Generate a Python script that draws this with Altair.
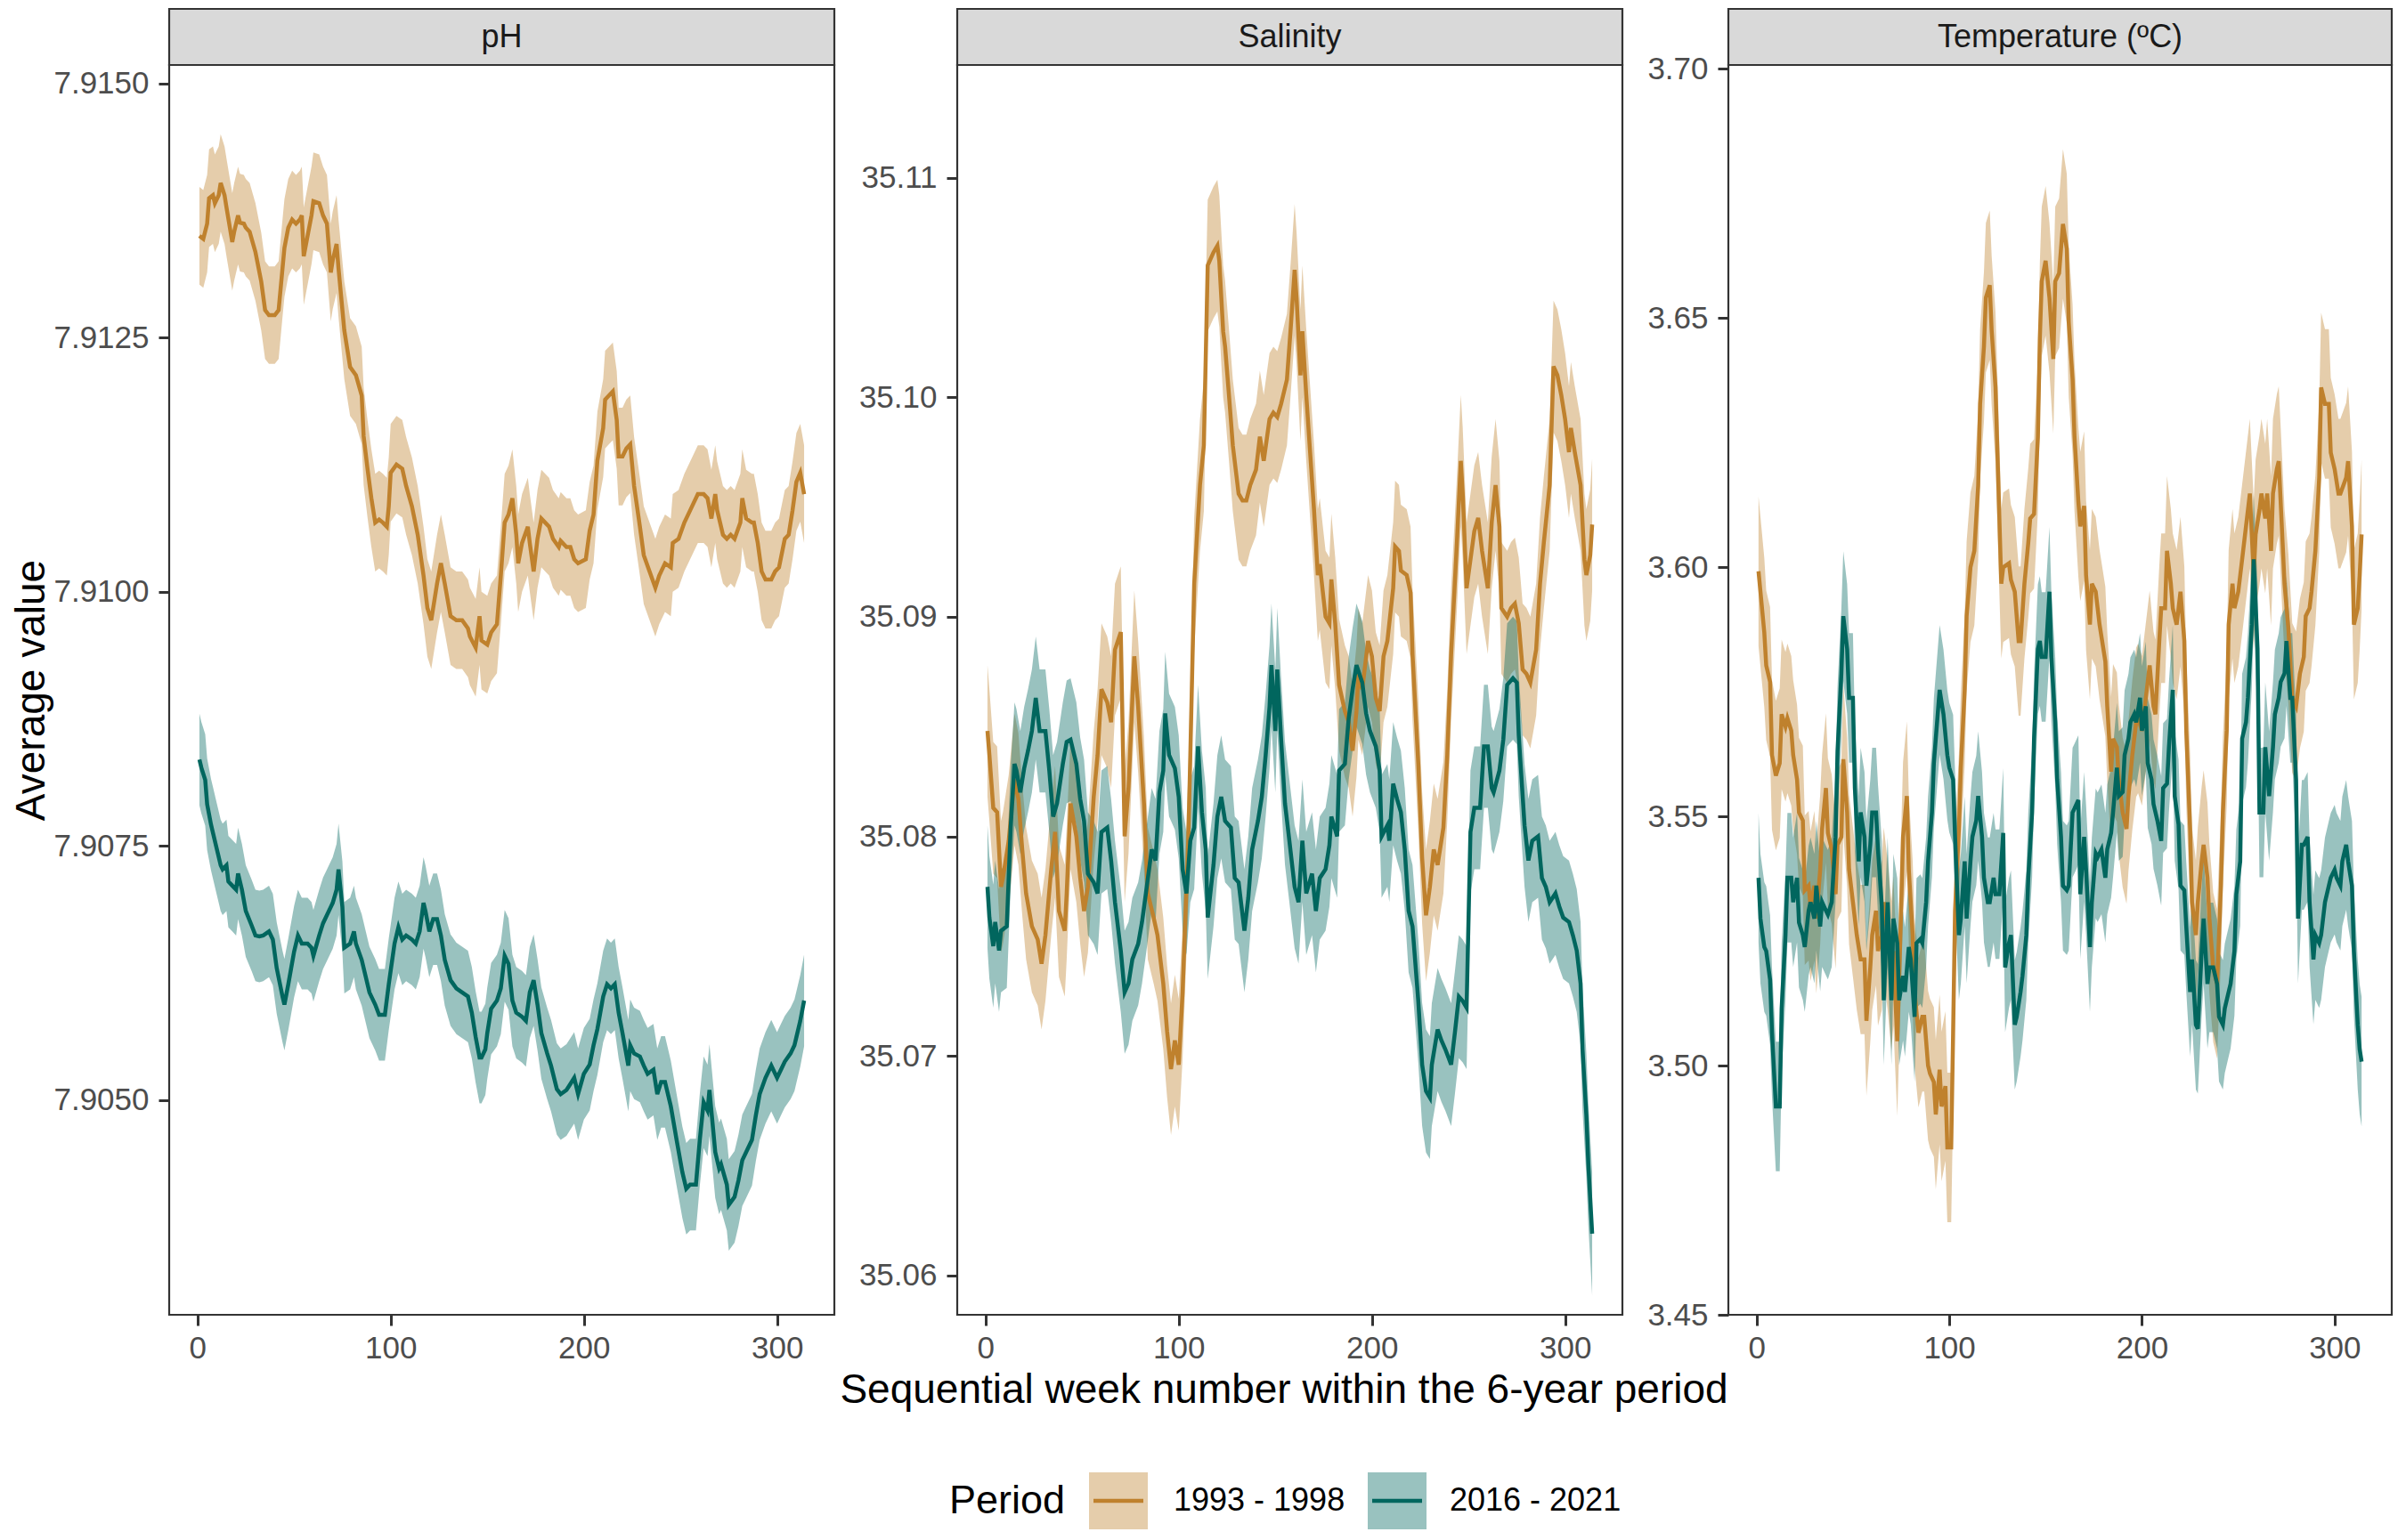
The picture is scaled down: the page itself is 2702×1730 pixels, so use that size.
import altair as alt
import pandas as pd

FONT = "Liberation Sans, Arial, Helvetica, sans-serif"

periods = ["1993 - 1998", "2016 - 2021"]
colors = ["#BF812D", "#01665E"]
panel_names = ["pH", "Salinity", "Temperature (ºC)"]
x_title = "Sequential week number within the 6-year period"
y_title = "Average value"
legend_title = "Period"
x_ticks = [0, 100, 200, 300]
ph_ticks = [7.9050, 7.9075, 7.9100, 7.9125, 7.9150]
sal_ticks = [35.06, 35.07, 35.08, 35.09, 35.10, 35.11]
temp_ticks = [3.45, 3.50, 3.55, 3.60, 3.65, 3.70]

# (week, mean) pairs
ph_9398 = [(1,7.91350),(3,7.91347),(5,7.91362),(6,7.91387),(8,7.91390),(9,7.91382),(11,7.91390),(12,7.91402),(14,7.91390),(15,7.91378),(18,7.91344),(19,7.91354),(21,7.91370),(22,7.91363),(24,7.91362),(25,7.91358),(27,7.91354),(30,7.91334),(33,7.91305),(35,7.91277),(37,7.91272),(40,7.91272),(42,7.91277),(44,7.91318),(45,7.91338),(47,7.91358),(49,7.91366),(51,7.91362),(53,7.91366),(54,7.91370),(55,7.91330),(57,7.91350),(59,7.91370),(60,7.91384),(63,7.91382),(65,7.91370),(67,7.91362),(69,7.91314),(70,7.91326),(72,7.91342),(73,7.91318),(76,7.91257),(79,7.91221),(82,7.91213),(85,7.91193),(86,7.91153),(88,7.91121),(90,7.91092),(92,7.91068),(94,7.91071),(96,7.91068),(98,7.91064),(99,7.91084),(100,7.91117),(103,7.91125),(106,7.91121),(108,7.91104),(111,7.91084),(114,7.91056),(117,7.91016),(119,7.90984),(121,7.90972),(124,7.91008),(126,7.91028),(128,7.91008),(131,7.90976),(134,7.90972),(137,7.90972),(140,7.90964),(141,7.90956),(144,7.90945),(146,7.90976),(147,7.90952),(150,7.90948),(152,7.90960),(155,7.90968),(157,7.91016),(159,7.91068),(161,7.91076),(163,7.91092),(165,7.91056),(166,7.91028),(168,7.91048),(171,7.91064),(172,7.91048),(174,7.91020),(176,7.91052),(178,7.91072),(180,7.91068),(182,7.91064),(184,7.91052),(187,7.91044),(188,7.91050),(191,7.91044),(193,7.91044),(195,7.91032),(197,7.91028),(201,7.91032),(203,7.91060),(205,7.91076),(207,7.91129),(210,7.91161),(211,7.91189),(213,7.91193),(215,7.91197),(217,7.91169),(218,7.91133),(220,7.91133),(222,7.91141),(224,7.91145),(226,7.91104),(229,7.91064),(231,7.91036),(234,7.91020),(237,7.91004),(239,7.91016),(242,7.91028),(245,7.91024),(246,7.91048),(249,7.91052),(252,7.91068),(255,7.91080),(259,7.91096),(262,7.91096),(264,7.91092),(266,7.91072),(268,7.91096),(269,7.91080),(272,7.91056),(274,7.91052),(276,7.91056),(278,7.91052),(281,7.91068),(282,7.91092),(284,7.91072),(287,7.91068),(288,7.91068),(290,7.91048),(292,7.91020),(294,7.91012),(297,7.91012),(299,7.91020),(301,7.91024),(304,7.91052),(306,7.91056),(308,7.91080),(310,7.91108),(312,7.91117),(314,7.91096)]
ph_1621 = [(1,7.90835),(2,7.90827),(4,7.90815),(5,7.90791),(7,7.90771),(8,7.90763),(10,7.90747),(12,7.90731),(13,7.90727),(15,7.90731),(16,7.90715),(18,7.90711),(20,7.90707),(21,7.90723),(23,7.90707),(25,7.90686),(28,7.90672),(30,7.90662),(32,7.90661),(34,7.90662),(37,7.90666),(39,7.90658),(41,7.90630),(44,7.90602),(45,7.90594),(47,7.90614),(50,7.90646),(52,7.90662),(54,7.90654),(57,7.90654),(59,7.90650),(60,7.90642),(63,7.90662),(65,7.90674),(67,7.90682),(70,7.90694),(72,7.90707),(73,7.90727),(75,7.90690),(76,7.90650),(79,7.90654),(81,7.90666),(82,7.90654),(85,7.90638),(87,7.90622),(89,7.90606),(92,7.90594),(94,7.90584),(97,7.90584),(99,7.90614),(102,7.90654),(104,7.90670),(106,7.90658),(108,7.90662),(111,7.90658),(113,7.90654),(115,7.90666),(117,7.90694),(118,7.90686),(120,7.90666),(122,7.90678),(124,7.90678),(126,7.90662),(128,7.90638),(131,7.90618),(134,7.90610),(137,7.90606),(140,7.90602),(142,7.90586),(144,7.90562),(146,7.90542),(147,7.90542),(149,7.90550),(150,7.90566),(152,7.90590),(155,7.90598),(157,7.90610),(159,7.90642),(161,7.90634),(163,7.90598),(165,7.90586),(168,7.90582),(170,7.90578),(172,7.90606),(174,7.90618),(176,7.90594),(178,7.90566),(181,7.90546),(183,7.90534),(186,7.90511),(188,7.90506),(191,7.90510),(193,7.90516),(195,7.90522),(197,7.90506),(200,7.90526),(203,7.90535),(205,7.90554),(207,7.90570),(210,7.90602),(212,7.90614),(214,7.90610),(216,7.90614),(218,7.90586),(220,7.90566),(223,7.90534),(224,7.90554),(226,7.90546),(229,7.90543),(231,7.90534),(233,7.90526),(236,7.90530),(238,7.90506),(240,7.90518),(242,7.90518),(245,7.90494),(248,7.90461),(251,7.90429),(253,7.90413),(255,7.90417),(258,7.90417),(260,7.90461),(262,7.90498),(264,7.90490),(265,7.90510),(268,7.90449),(270,7.90433),(271,7.90437),(274,7.90417),(275,7.90397),(278,7.90405),(280,7.90421),(282,7.90441),(284,7.90449),(287,7.90461),(289,7.90485),(291,7.90506),(294,7.90522),(296,7.90530),(297,7.90534),(300,7.90522),(302,7.90530),(304,7.90538),(307,7.90546),(309,7.90554),(310,7.90562),(312,7.90578),(314,7.90598)]
sal_9398 = [(1,35.0848),(2,35.0837),(4,35.0813),(6,35.0811),(8,35.0777),(9,35.0781),(12,35.0798),(15,35.0826),(17,35.0817),(19,35.0794),(21,35.0774),(24,35.0759),(27,35.0753),(29,35.0742),(31,35.0755),(34,35.0785),(36,35.0802),(38,35.0766),(41,35.0757),(42,35.0774),(44,35.0815),(47,35.0800),(49,35.0781),(51,35.0766),(53,35.0777),(56,35.0818),(58,35.0837),(60,35.0867),(63,35.0861),(65,35.0852),(67,35.0885),(70,35.0893),(72,35.0800),(74,35.0822),(77,35.0882),(79,35.0859),(82,35.0815),(84,35.0774),(87,35.0763),(89,35.0755),(92,35.0733),(94,35.0711),(96,35.0694),(98,35.0707),(100,35.0696),(102,35.0729),(105,35.0800),(106,35.0837),(108,35.0915),(111,35.0960),(113,35.0978),(115,35.1060),(118,35.1066),(120,35.1069),(121,35.1062),(123,35.1030),(124,35.1023),(126,35.1001),(128,35.0978),(131,35.0956),(133,35.0953),(135,35.0953),(137,35.0960),(140,35.0967),(142,35.0982),(144,35.0971),(147,35.0990),(149,35.0993),(151,35.0991),(153,35.0997),(156,35.1008),(158,35.1032),(160,35.1058),(161,35.1045),(163,35.1010),(164,35.1030),(166,35.1001),(168,35.0975),(170,35.0949),(172,35.0919),(173,35.0924),(175,35.0908),(176,35.0900),(178,35.0897),(179,35.0917),(181,35.0897),(183,35.0869),(186,35.0857),(188,35.0852),(190,35.0839),(192,35.0857),(193,35.0874),(195,35.0867),(198,35.0889),(200,35.0882),(202,35.0863),(204,35.0857),(206,35.0882),(208,35.0889),(211,35.0913),(212,35.0932),(214,35.0930),(215,35.0921),(218,35.0919),(220,35.0911),(221,35.0883),(224,35.0833),(226,35.0790),(228,35.0764),(230,35.0777),(232,35.0794),(234,35.0787),(237,35.0804),(239,35.0837),(241,35.0883),(244,35.0934),(246,35.0971),(247,35.0956),(249,35.0913),(251,35.0926),(253,35.0939),(255,35.0945),(257,35.0930),(260,35.0913),(262,35.0943),(264,35.0960),(266,35.0941),(267,35.0904),(270,35.0900),(272,35.0904),(274,35.0906),(276,35.0897),(278,35.0876),(280,35.0874),(282,35.0870),(285,35.0885),(287,35.0915),(289,35.0934),(292,35.0960),(294,35.1014),(296,35.1010),(298,35.1001),(300,35.0990),(302,35.0975),(303,35.0986),(305,35.0975),(308,35.0960),(310,35.0926),(311,35.0919),(313,35.0928),(314,35.0942)]
sal_1621 = [(1,35.0777),(2,35.0763),(4,35.0750),(5,35.0761),(7,35.0748),(8,35.0757),(11,35.0759),(13,35.0804),(15,35.0833),(16,35.0830),(18,35.0820),(20,35.0831),(22,35.0839),(24,35.0848),(26,35.0863),(28,35.0848),(31,35.0848),(33,35.0830),(35,35.0809),(37,35.0815),(40,35.0833),(42,35.0843),(44,35.0844),(47,35.0833),(49,35.0817),(51,35.0807),(53,35.0783),(56,35.0779),(58,35.0774),(60,35.0802),(63,35.0804),(65,35.0789),(67,35.0770),(70,35.0748),(72,35.0729),(74,35.0733),(76,35.0744),(79,35.0751),(81,35.0761),(83,35.0774),(86,35.0794),(88,35.0789),(90,35.0820),(92,35.0830),(93,35.0856),(95,35.0837),(98,35.0831),(100,35.0818),(102,35.0785),(104,35.0774),(106,35.0798),(108,35.0804),(110,35.0841),(112,35.0811),(114,35.0794),(115,35.0763),(118,35.0787),(120,35.0809),(122,35.0818),(124,35.0807),(127,35.0804),(129,35.0781),(131,35.0779),(134,35.0757),(136,35.0772),(138,35.0794),(141,35.0807),(143,35.0818),(145,35.0837),(147,35.0859),(148,35.0878),(150,35.0848),(151,35.0876),(153,35.0844),(155,35.0815),(157,35.0800),(160,35.0777),(162,35.0770),(164,35.0798),(166,35.0774),(169,35.0783),(171,35.0766),(173,35.0781),(176,35.0785),(178,35.0796),(179,35.0809),(182,35.0800),(183,35.0830),(186,35.0833),(188,35.0854),(190,35.0867),(192,35.0878),(195,35.0870),(197,35.0856),(199,35.0848),(202,35.0841),(204,35.0830),(205,35.0800),(208,35.0805),(209,35.0798),(211,35.0824),(213,35.0817),(215,35.0811),(217,35.0794),(219,35.0766),(221,35.0759),(224,35.0725),(226,35.0696),(228,35.0684),(230,35.0681),(231,35.0696),(234,35.0712),(236,35.0707),(238,35.0703),(241,35.0696),(243,35.0711),(245,35.0727),(247,35.0725),(249,35.0722),(251,35.0802),(253,35.0813),(256,35.0813),(258,35.0841),(260,35.0841),(262,35.0822),(263,35.0820),(266,35.0830),(268,35.0844),(270,35.0869),(273,35.0872),(275,35.0870),(276,35.0846),(279,35.0805),(281,35.0789),(283,35.0798),(286,35.0800),(288,35.0781),(290,35.0777),(292,35.0770),(295,35.0774),(297,35.0768),(299,35.0763),(302,35.0761),(304,35.0755),(306,35.0748),(308,35.0733),(309,35.0703),(311,35.0673),(312,35.0651),(314,35.0619)]
temp_9398 = [(1,3.5992),(2,3.5951),(4,3.5869),(5,3.5803),(7,3.5770),(8,3.5623),(10,3.5582),(12,3.5607),(13,3.5705),(15,3.5680),(16,3.5697),(18,3.5672),(19,3.5623),(21,3.5574),(22,3.5508),(24,3.5492),(25,3.5352),(27,3.5361),(28,3.5320),(30,3.5361),(31,3.5295),(33,3.5393),(34,3.5475),(36,3.5557),(37,3.5467),(39,3.5434),(41,3.5344),(42,3.5443),(44,3.5459),(45,3.5615),(47,3.5508),(48,3.5393),(50,3.5328),(52,3.5262),(54,3.5213),(56,3.5213),(57,3.5090),(59,3.5197),(60,3.5262),(62,3.5311),(63,3.5230),(65,3.5262),(66,3.5328),(68,3.5262),(70,3.5180),(71,3.5230),(73,3.5049),(75,3.5311),(76,3.5459),(78,3.5541),(79,3.5393),(81,3.5262),(82,3.5148),(84,3.5066),(86,3.5098),(87,3.5098),(89,3.5000),(90,3.4984),(92,3.4967),(93,3.4902),(95,3.4992),(96,3.4918),(98,3.4959),(99,3.4836),(101,3.4836),(102,3.5066),(103,3.5311),(105,3.5475),(106,3.5598),(108,3.5754),(109,3.5902),(111,3.6000),(113,3.6033),(115,3.6164),(116,3.6328),(118,3.6443),(119,3.6541),(121,3.6566),(122,3.6475),(124,3.6361),(125,3.6230),(127,3.5967),(128,3.6000),(131,3.6008),(132,3.5975),(134,3.5951),(136,3.5852),(137,3.5852),(139,3.5967),(141,3.6049),(142,3.6098),(144,3.6107),(146,3.6262),(147,3.6459),(148,3.6574),(150,3.6615),(152,3.6541),(154,3.6418),(155,3.6574),(157,3.6590),(159,3.6689),(161,3.6639),(162,3.6492),(164,3.6377),(165,3.6262),(167,3.6131),(168,3.6082),(170,3.6123),(171,3.5984),(173,3.5885),(174,3.5967),(176,3.5951),(178,3.5885),(181,3.5811),(182,3.5721),(184,3.5590),(185,3.5656),(187,3.5639),(188,3.5574),(190,3.5508),(192,3.5475),(193,3.5541),(195,3.5623),(197,3.5689),(198,3.5697),(200,3.5672),(201,3.5705),(203,3.5770),(204,3.5803),(206,3.5721),(207,3.5705),(209,3.5852),(210,3.5918),(212,3.5918),(213,3.6033),(215,3.5967),(216,3.5918),(218,3.5885),(220,3.5951),(222,3.5852),(223,3.5672),(225,3.5475),(226,3.5328),(228,3.5262),(229,3.5328),(231,3.5410),(232,3.5443),(234,3.5377),(235,3.5295),(237,3.5197),(239,3.5164),(241,3.5361),(242,3.5508),(244,3.5672),(245,3.5885),(247,3.5967),(248,3.5918),(250,3.5951),(252,3.6016),(254,3.6082),(256,3.6148),(258,3.5984),(259,3.6066),(261,3.6115),(262,3.6148),(264,3.6098),(265,3.6148),(267,3.6033),(268,3.6148),(270,3.6197),(271,3.6213),(273,3.6049),(274,3.5967),(276,3.5877),(278,3.5738),(280,3.5721),(282,3.5787),(284,3.5820),(285,3.5902),(287,3.5918),(288,3.5951),(290,3.6033),(292,3.6180),(293,3.6361),(295,3.6328),(297,3.6328),(298,3.6230),(300,3.6197),(302,3.6148),(303,3.6148),(306,3.6180),(307,3.6213),(309,3.6082),(310,3.5885),(312,3.5918),(313,3.5984),(314,3.6066)]
temp_1621 = [(1,3.5377),(2,3.5295),(4,3.5238),(5,3.5230),(7,3.5172),(8,3.5066),(10,3.4918),(12,3.4918),(13,3.5115),(15,3.5262),(16,3.5377),(18,3.5377),(19,3.5328),(21,3.5377),(22,3.5287),(24,3.5262),(25,3.5238),(27,3.5311),(28,3.5328),(30,3.5295),(31,3.5361),(33,3.5279),(34,3.5328),(36,3.5311),(37,3.5303),(39,3.5328),(41,3.5459),(42,3.5631),(44,3.5787),(45,3.5902),(47,3.5836),(48,3.5738),(50,3.5738),(51,3.5557),(53,3.5410),(54,3.5508),(56,3.5459),(57,3.5361),(59,3.5443),(60,3.5508),(62,3.5508),(63,3.5434),(65,3.5320),(66,3.5131),(68,3.5328),(70,3.5131),(71,3.5295),(73,3.5246),(74,3.5131),(76,3.5180),(77,3.5148),(79,3.5238),(80,3.5213),(82,3.5098),(83,3.5246),(85,3.5254),(86,3.5246),(88,3.5328),(89,3.5410),(91,3.5508),(92,3.5607),(94,3.5705),(95,3.5754),(97,3.5705),(99,3.5623),(100,3.5598),(102,3.5574),(103,3.5459),(105,3.5262),(106,3.5295),(108,3.5410),(109,3.5295),(111,3.5410),(112,3.5459),(114,3.5492),(115,3.5541),(117,3.5459),(118,3.5377),(120,3.5328),(121,3.5328),(123,3.5377),(124,3.5344),(126,3.5344),(128,3.5467),(129,3.5197),(131,3.5246),(132,3.5262),(134,3.5082),(135,3.5098),(137,3.5148),(138,3.5180),(140,3.5262),(141,3.5377),(143,3.5508),(144,3.5656),(146,3.5836),(147,3.5852),(148,3.5820),(150,3.5820),(152,3.5951),(153,3.5820),(155,3.5689),(156,3.5574),(158,3.5459),(159,3.5361),(161,3.5352),(162,3.5361),(164,3.5508),(165,3.5516),(167,3.5533),(168,3.5344),(170,3.5459),(171,3.5393),(173,3.5238),(174,3.5328),(176,3.5426),(177,3.5418),(179,3.5434),(181,3.5377),(182,3.5434),(184,3.5467),(185,3.5508),(187,3.5598),(188,3.5541),(190,3.5549),(191,3.5623),(193,3.5656),(194,3.5689),(196,3.5705),(197,3.5689),(199,3.5738),(200,3.5672),(202,3.5721),(203,3.5607),(205,3.5574),(206,3.5525),(208,3.5492),(210,3.5451),(211,3.5557),(213,3.5566),(214,3.5639),(216,3.5754),(217,3.5541),(219,3.5484),(220,3.5361),(222,3.5352),(223,3.5279),(225,3.5148),(226,3.5213),(228,3.5082),(229,3.5074),(231,3.5230),(232,3.5295),(234,3.5164),(235,3.5197),(237,3.5197),(239,3.5164),(240,3.5098),(242,3.5082),(243,3.5115),(245,3.5148),(246,3.5164),(248,3.5230),(249,3.5344),(251,3.5410),(252,3.5656),(254,3.5689),(255,3.5738),(257,3.5885),(258,3.6016),(260,3.5836),(261,3.5508),(263,3.5508),(264,3.5639),(266,3.5541),(268,3.5639),(269,3.5705),(271,3.5738),(272,3.5770),(274,3.5787),(275,3.5852),(277,3.5738),(278,3.5738),(280,3.5574),(281,3.5295),(283,3.5443),(284,3.5443),(286,3.5459),(287,3.5328),(289,3.5213),(290,3.5262),(292,3.5246),(293,3.5262),(295,3.5328),(297,3.5361),(298,3.5377),(300,3.5393),(301,3.5377),(303,3.5361),(304,3.5410),(306,3.5443),(307,3.5410),(309,3.5361),(310,3.5230),(312,3.5082),(313,3.5033),(314,3.5008)]

# half-width of the shaded confidence ribbons
ph_9398_hw = 0.00048
ph_1621_hw = 0.00045
sal_9398_hw = 0.0030
sal_1621_hw = 0.0028
temp_9398_hw = 0.015
temp_1621_hw = 0.013

series = [
    (panel_names[0], periods[0], ph_9398, ph_9398_hw),
    (panel_names[0], periods[1], ph_1621, ph_1621_hw),
    (panel_names[1], periods[0], sal_9398, sal_9398_hw),
    (panel_names[1], periods[1], sal_1621, sal_1621_hw),
    (panel_names[2], periods[0], temp_9398, temp_9398_hw),
    (panel_names[2], periods[1], temp_1621, temp_1621_hw),
]
rows = []
for var, per, pairs, hw in series:
    for w, v in pairs:
        rows.append({"variable": var, "period": per, "week": w,
                     "mean": v, "lower": v - hw, "upper": v + hw})
df = pd.DataFrame(rows)

PLOT_H = 1404
STRIP_H = 63
specs = [
    (panel_names[0], [7.90289, 7.91518], ph_ticks, ".4f", 747),
    (panel_names[1], [35.05821, 35.11513], sal_ticks, ".2f", 747),
    (panel_names[2], [3.45, 3.7008], temp_ticks, ".2f", 745),
]
color_scale = alt.Scale(domain=periods, range=colors)


def make_panel(i):
    name, dom, ticks, fmt, w = specs[i]
    d = df[df["variable"] == name]
    xenc = alt.X("week:Q", scale=alt.Scale(domain=[-14.65, 329.65], nice=False, zero=False),
                 axis=alt.Axis(values=x_ticks, title=None, labelFlush=False))
    yaxis = alt.Axis(values=ticks, format=fmt, title=(y_title if i == 0 else None), labelFlush=False)
    ysc = alt.Scale(domain=dom, nice=False, zero=False)
    area = alt.Chart(d).mark_area(opacity=0.4).encode(
        x=xenc, y=alt.Y("lower:Q", scale=ysc, axis=yaxis), y2="upper:Q",
        color=alt.Color("period:N", scale=color_scale, legend=None))
    line = alt.Chart(d).mark_line(strokeWidth=4.5).encode(
        x=xenc, y=alt.Y("mean:Q", scale=ysc, axis=yaxis),
        color=alt.Color("period:N", scale=color_scale, legend=None))
    border = alt.Chart(pd.DataFrame({"k": [0]})).mark_rect(
        fillOpacity=0, stroke="#333333", strokeWidth=2.2).encode(
        x=alt.value(0), x2=alt.value(w), y=alt.value(0), y2=alt.value(PLOT_H))
    plot = alt.layer(area, line, border).properties(width=w, height=PLOT_H)

    sd = pd.DataFrame({"label": [name]})
    strip_bg = alt.Chart(sd).mark_rect(fill="#D9D9D9", stroke="#333333", strokeWidth=2.2).encode(
        x=alt.value(0), x2=alt.value(w), y=alt.value(0), y2=alt.value(STRIP_H))
    strip_txt = alt.Chart(sd).mark_text(font=FONT, fontSize=36, color="#1A1A1A",
                                        align="center", baseline="middle").encode(
        x=alt.value(w / 2), y=alt.value(STRIP_H / 2), text="label:N")
    strip = alt.layer(strip_bg, strip_txt).properties(width=w, height=STRIP_H)
    return alt.vconcat(strip, plot, spacing=0, bounds="flush")


top = alt.hconcat(make_panel(0), make_panel(1), make_panel(2), spacing=25)

one = pd.DataFrame({"k": [0]})
def text_layer(txt, x, y, size, align):
    return alt.Chart(pd.DataFrame({"t": [txt]})).mark_text(
        font=FONT, fontSize=size, color="#000000", align=align, baseline="middle").encode(
        x=alt.value(x), y=alt.value(y), text="t:N")

# footer positions are relative to the left edge of the first panel
footer_layers = [
    text_layer(x_title, 1252, 30, 46, "center"),
    text_layer(legend_title, 876, 154, 45, "left"),
]
key_x = [1033, 1346]
label_x = [1128, 1438]
for k in range(2):
    footer_layers.append(alt.Chart(one).mark_rect(fill=colors[k], fillOpacity=0.4).encode(
        x=alt.value(key_x[k]), x2=alt.value(key_x[k] + 66), y=alt.value(122), y2=alt.value(186)))
    footer_layers.append(alt.Chart(one).mark_rule(stroke=colors[k], strokeWidth=4.5).encode(
        x=alt.value(key_x[k] + 5), x2=alt.value(key_x[k] + 61), y=alt.value(154)))
    footer_layers.append(text_layer(periods[k], label_x[k], 154, 36, "left"))
footer = alt.layer(*footer_layers).properties(width=2480, height=186)

chart = alt.vconcat(top, footer, spacing=0).properties(
    padding={"left": 4, "top": 0, "right": 0, "bottom": 0}
).configure(font=FONT).configure_view(strokeWidth=0).configure_axis(
    labelFont=FONT, labelFontSize=35, labelColor="#4D4D4D",
    tickColor="#333333", tickWidth=3, tickSize=12,
    domain=False, grid=False,
    titleFont=FONT, titleFontSize=46, titleFontWeight="normal", titleColor="#000000",
).configure_axisX(labelPadding=8).configure_axisY(labelPadding=11, titlePadding=0)

chart.save("out.html", embed_options={"renderer": "svg", "actions": False})
